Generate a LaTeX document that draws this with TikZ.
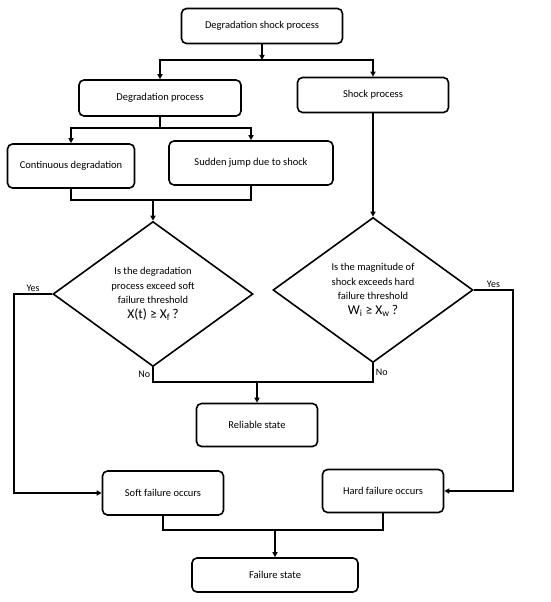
\documentclass[tikz,border=0pt]{standalone}
\usepackage{fontspec}
\setmainfont{Carlito}
\usepackage{tikz}
\usetikzlibrary{arrows.meta, positioning, shapes.geometric, calc}

\begin{document}
\begin{tikzpicture}[
  x=1pt, y=-1pt,
  box/.style={draw, rounded corners=5pt, line width=1.6pt, align=center, inner sep=2pt, font=\fontsize{10.5}{12}\selectfont},
  decision/.style={draw, diamond, line width=1.6pt, align=center, inner sep=0pt, minimum width=200pt, minimum height=145pt, font=\fontsize{10.5}{14.5}\selectfont},
  line/.style={line width=1.6pt},
  arrow/.style={line width=1.6pt, -{Triangle[length=5pt, width=5pt]}},
  lbl/.style={font=\fontsize{10}{11}\selectfont, inner sep=2pt},
]
\useasboundingbox (0,0) rectangle (550,602);

% processes
\node[box, minimum width=161pt, minimum height=35pt] (top) at (262,26) {Degradation shock process};
\node[box, minimum width=162pt, minimum height=36pt] (degp) at (160,98) {Degradation process};
\node[box, minimum width=151pt, minimum height=35pt] (shockp) at (373,95) {Shock process};
\node[box, minimum width=127pt, minimum height=44pt] (cont) at (71,166) {Continuous degradation};
\node[box, minimum width=164pt, minimum height=44pt] (sud) at (251,163) {Sudden jump due to shock};

% decisions
\node[decision] (dsoft) at (153,294) {Is the degradation\\process exceed soft\\failure threshold\\{\fontsize{13.5}{15}\selectfont X(t) ≥ X\textsubscript{f}\,?}};
\node[decision] (dhard) at (373,290) {Is the magnitude of\\shock exceeds hard\\failure threshold\\{\fontsize{13.5}{15}\selectfont W\textsubscript{i} ≥ X\textsubscript{w}\,?}};

% states
\node[box, minimum width=121pt, minimum height=43pt] (rel) at (257,425) {Reliable state};
\node[box, minimum width=121pt, minimum height=44pt] (soft) at (163,493) {Soft failure occurs};
\node[box, minimum width=121pt, minimum height=43pt] (hard) at (383,491) {Hard failure occurs};
\node[box, minimum width=166pt, minimum height=34pt] (fail) at (275,575) {Failure state};

% junctions
\coordinate (j1) at (262,60);
\coordinate (j2) at (160,128);
\coordinate (j3) at (153,200);
\coordinate (j4) at (257,382);
\coordinate (j5) at (275,530);
\coordinate (yl) at (14,294);
\coordinate (yr) at (513,290);

% connectors
\draw[arrow] (top.south) -- (j1);
\draw[arrow] (j1) -| (degp.north);
\draw[arrow] (j1) -| (shockp.north);
\draw[line] (degp.south) -- (j2);
\draw[arrow] (j2) -| (cont.north);
\draw[arrow] (j2) -| (sud.north);
\draw[line] (cont.south) |- (j3) -| (sud.south);
\draw[arrow] (j3) -- (dsoft.north);
\draw[arrow] (shockp.south) -- (dhard.north);

\draw[arrow] (dsoft.west) -- node[lbl, above] {Yes} (yl) |- (soft.west);
\draw[arrow] (dhard.east) -- node[lbl, above] {Yes} (yr) |- (hard.east);
\draw[line] (dsoft.south) -- node[lbl, left] {No} (dsoft.south |- j4) -- (dhard.south |- j4) -- node[lbl, right] {No} (dhard.south);
\draw[arrow] (j4) -- (rel.north);

\draw[line] (soft.south) |- (j5) -| (hard.south);
\draw[arrow] (j5) -- (fail.north);

\end{tikzpicture}
\end{document}
